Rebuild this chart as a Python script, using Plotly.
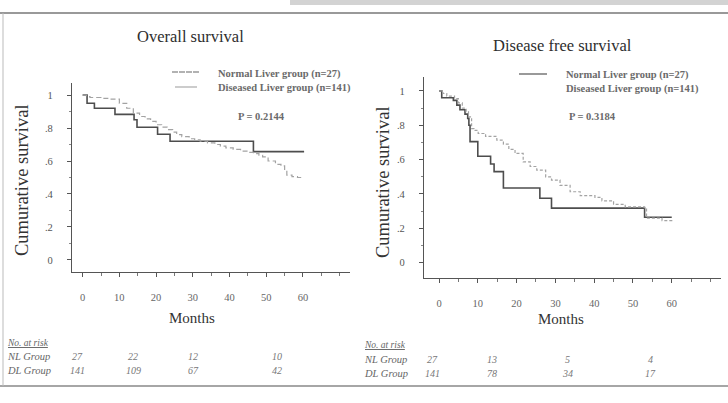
import plotly.graph_objects as go

# ---------------- data ----------------
month_ticks = [0, 10, 20, 30, 40, 50, 60]
surv_tick_vals = [0, 0.2, 0.4, 0.6, 0.8, 1.0]
surv_tick_text = ["0", ".2", ".4", ".6", ".8", "1"]

# Overall survival (Kaplan-Meier steps)
os_nl_months = [0, 1.2, 3.2, 8.8, 14.0, 14.8, 20.4, 23.8, 46.5, 60.3]
os_nl_surv = [1.0, 0.95, 0.92, 0.883, 0.85, 0.805, 0.762, 0.72, 0.657, 0.657]
os_dl_months = [0, 1, 2, 5, 7.5, 10, 12, 13.8, 15.5, 17, 18.5, 20, 21.5, 23, 24.5, 25.6, 27,
                29, 30.5, 32, 34, 36, 37.5, 39, 41, 43, 45, 46.5, 48, 49, 50.5, 52.5, 54,
                55, 55.6, 57, 58.5, 60]
os_dl_surv = [1.0, 0.99, 0.985, 0.98, 0.975, 0.95, 0.92, 0.89, 0.87, 0.855, 0.84, 0.82, 0.805,
              0.79, 0.775, 0.76, 0.748, 0.735, 0.728, 0.72, 0.71, 0.70, 0.69, 0.68, 0.67, 0.66,
              0.652, 0.645, 0.635, 0.625, 0.60, 0.58, 0.57, 0.545, 0.515, 0.505, 0.50, 0.495]

# Disease free survival
dfs_nl_months = [0, 0.7, 3.7, 4.6, 5.4, 6.7, 7.4, 7.7, 8.0, 10.0, 13.3, 14.2, 16.6, 26.0, 29.0,
                 53.0, 60.0]
dfs_nl_surv = [1.0, 0.96, 0.945, 0.917, 0.89, 0.865, 0.84, 0.80, 0.705, 0.62, 0.575, 0.53,
               0.435, 0.375, 0.318, 0.265, 0.265]
dfs_dl_months = [0, 1, 2, 4, 5, 6, 7, 7.6, 8.4, 9, 10.1, 12, 14.9, 16.6, 18, 19.6, 21.7, 23.5,
                 25.2, 27.5, 29, 31.2, 33.8, 36.4, 40.2, 42, 45, 48, 53, 53.5, 57.5, 60]
dfs_dl_surv = [1.0, 0.985, 0.97, 0.955, 0.93, 0.90, 0.88, 0.849, 0.78, 0.77, 0.752, 0.735,
               0.713, 0.69, 0.66, 0.636, 0.587, 0.56, 0.539, 0.50, 0.481, 0.45, 0.413, 0.39,
               0.38, 0.36, 0.34, 0.325, 0.32, 0.26, 0.245, 0.24]

risk_groups = ["NL Group", "DL Group"]
os_risk_nl = [27, 22, 12, 10]
os_risk_dl = [141, 109, 67, 42]
dfs_risk_nl = [27, 13, 5, 4]
dfs_risk_dl = [141, 78, 34, 17]

legend_labels = ["Normal Liver group (n=27)", "Diseased Liver group (n=141)"]
panel_titles = ["Overall survival", "Disease free survival"]
p_values = ["P = 0.2144", "P = 0.3184"]

# ---------------- layout helpers ----------------
W, H = 728, 403
SERIF = "Liberation Serif, Times New Roman, serif"
DARK = "#3a3a3a"
NL_COLOR = "#4d4d4d"
DL_COLOR = "#a3a3a3"


def px(x):
    return x / W


def py(y):
    return 1 - y / H


fig = go.Figure()

fig.add_trace(go.Scatter(x=os_nl_months, y=os_nl_surv, mode="lines", line_shape="hv",
                         line=dict(color=NL_COLOR, width=1.6), xaxis="x", yaxis="y",
                         showlegend=False, hoverinfo="skip"))
fig.add_trace(go.Scatter(x=os_dl_months, y=os_dl_surv, mode="lines", line_shape="hv",
                         line=dict(color=DL_COLOR, width=1.2, dash="5px,3px"), xaxis="x", yaxis="y",
                         showlegend=False, hoverinfo="skip"))
fig.add_trace(go.Scatter(x=dfs_nl_months, y=dfs_nl_surv, mode="lines", line_shape="hv",
                         line=dict(color=NL_COLOR, width=1.6), xaxis="x2", yaxis="y2",
                         showlegend=False, hoverinfo="skip"))
fig.add_trace(go.Scatter(x=dfs_dl_months, y=dfs_dl_surv, mode="lines", line_shape="hv",
                         line=dict(color=DL_COLOR, width=1.2, dash="3px,2px"), xaxis="x2", yaxis="y2",
                         showlegend=False, hoverinfo="skip"))

common_x = dict(showline=True, linecolor="#555", linewidth=1.2, ticks="outside", ticklen=4,
                tickcolor="#555", tickvals=month_ticks, showgrid=False, zeroline=False,
                tickfont=dict(family=SERIF, size=10.5, color="#666"), ticklabelstandoff=11,
                minor=dict(ticks="outside", dtick=5, tick0=0, ticklen=3, tickcolor="#777",
                           showgrid=False))
common_y = dict(showline=True, linecolor="#555", linewidth=1.2, ticks="outside", ticklen=4,
                tickcolor="#555", tickvals=surv_tick_vals, ticktext=surv_tick_text,
                showgrid=False, zeroline=False,
                tickfont=dict(family=SERIF, size=10.5, color="#555"), ticklabelstandoff=12,
                minor=dict(ticks="outside", dtick=0.1, tick0=0, ticklen=2, tickcolor="#888",
                           showgrid=False))

fig.update_layout(
    width=W, height=H, margin=dict(l=0, r=0, t=0, b=0),
    paper_bgcolor="white", plot_bgcolor="white",
    xaxis=dict(domain=[px(72), px(350)], range=[-2.9, 72.8], anchor="y", **common_x),
    yaxis=dict(domain=[py(272), py(83)], range=[-0.073, 1.073], anchor="x", **common_y),
    xaxis2=dict(domain=[px(424), px(721)], range=[-3.87, 72.7], anchor="y2", **common_x),
    yaxis2=dict(domain=[py(278), py(77)], range=[-0.089, 1.081], anchor="x2", **common_y),
)

ann = []


def text(x, y, s, size, color=DARK, anchor="center", angle=0, italic=False, bold=False,
         family=SERIF):
    ann.append(dict(x=px(x), y=py(y), xref="paper", yref="paper", text=s, showarrow=False,
                    xanchor=anchor, yanchor="middle", textangle=angle,
                    font=dict(family=family, size=size, color=color,
                              weight="bold" if bold else "normal",
                              style="italic" if italic else "normal")))


# titles
text(190, 37, panel_titles[0], 16.5, color="#2e2e2e")
text(562, 45, panel_titles[1], 16.5, color="#2e2e2e")
# y titles
text(22, 180, "Cumurative survival", 18.5, color="#333", angle=-90)
text(383, 182, "Cumurative survival", 18.5, color="#333", angle=-90)
# x titles
text(192, 318, "Months", 15, color="#333")
text(561, 319, "Months", 15, color="#333")
# legends
text(216, 74, legend_labels[0], 10.5, color="#6a6a6a", anchor="left", bold=True)
text(216, 88, legend_labels[1], 10.5, color="#6a6a6a", anchor="left", bold=True)
text(564, 75, legend_labels[0], 10.5, color="#6a6a6a", anchor="left", bold=True)
text(564, 89, legend_labels[1], 10.5, color="#6a6a6a", anchor="left", bold=True)
text(236, 116, p_values[0], 10.5, color="#6a6a6a", anchor="left", bold=True)
text(567, 116, p_values[1], 10.5, color="#6a6a6a", anchor="left", bold=True)

# number-at-risk tables
risk_rows_y = [(343, 356, 370), (345, 359, 373)]
risk_x = [[77, 133, 193, 277], [432, 492, 567, 650]]
label_x = [5, 362]
tables = [(os_risk_nl, os_risk_dl), (dfs_risk_nl, dfs_risk_dl)]
for k in range(2):
    y0, y1, y2 = risk_rows_y[k]
    text(label_x[k], y0, "<span style='text-decoration:underline'>No. at risk</span>", 9.5,
         color="#666", anchor="left", italic=True)
    text(label_x[k], y1, risk_groups[0], 10.5, color="#666", anchor="left", italic=True)
    text(label_x[k], y2, risk_groups[1], 10.5, color="#666", anchor="left", italic=True)
    nl, dl = tables[k]
    for j in range(4):
        text(risk_x[k][j], y1, str(nl[j]), 10, color="#777", italic=True)
        text(risk_x[k][j], y2, str(dl[j]), 10, color="#777", italic=True)

fig.update_layout(annotations=ann)

shapes = [
    # legend sample lines
    dict(type="line", xref="paper", yref="paper", x0=px(172), x1=px(200), y0=py(72), y1=py(72),
         line=dict(color="#666", width=1.2, dash="6px,1px")),
    dict(type="line", xref="paper", yref="paper", x0=px(175), x1=px(197), y0=py(87), y1=py(87),
         line=dict(color="#999", width=1)),
    dict(type="line", xref="paper", yref="paper", x0=px(519), x1=px(547), y0=py(74), y1=py(74),
         line=dict(color="#555", width=1.2)),
    # page frame of the scan
    dict(type="line", xref="paper", yref="paper", x0=0, x1=1, y0=py(13), y1=py(13),
         line=dict(color="#777", width=1.5)),
    dict(type="line", xref="paper", yref="paper", x0=0, x1=1, y0=py(386), y1=py(386),
         line=dict(color="#888", width=1.5)),
    dict(type="line", xref="paper", yref="paper", x0=px(3), x1=px(3), y0=py(13), y1=py(386),
         line=dict(color="#bbb", width=1)),
    dict(type="rect", xref="paper", yref="paper", x0=px(290), x1=1, y0=py(5), y1=1,
         fillcolor="#b5b5b5", line=dict(width=0), opacity=0.6),
]
fig.update_layout(shapes=shapes)

fig.write_html("out.html")
